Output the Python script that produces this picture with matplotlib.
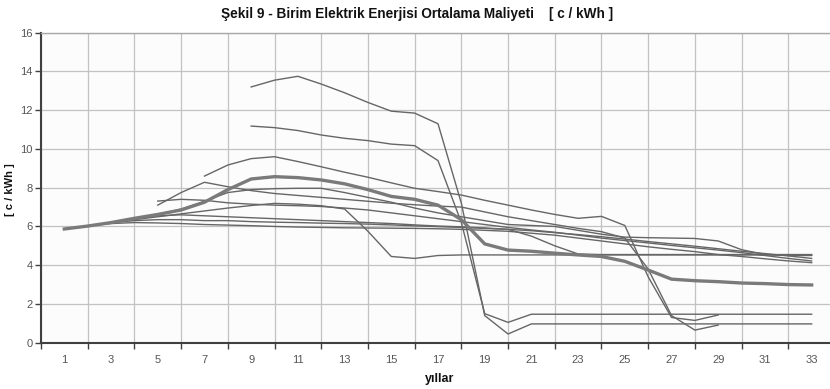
import numpy as np
import matplotlib
matplotlib.use("Agg")
import matplotlib.pyplot as plt
from matplotlib import font_manager

N = np.nan
years = list(range(1, 34))

# average (thick) series
avg = [5.87, 6.02, 6.2, 6.42, 6.62, 6.85, 7.25, 7.9, 8.45, 8.57, 8.52, 8.4, 8.2, 7.9, 7.55,
       7.4, 7.1, 6.35, 5.1, 4.78, 4.72, 4.62, 4.53, 4.45, 4.2, 3.75, 3.28, 3.2, 3.15, 3.08,
       3.05, 3.0, 2.98]
s13 = [N]*8 + [13.2, 13.55, 13.75, 13.35, 12.9, 12.4, 11.95, 11.85, 11.3, 7.2, 1.4, 0.45,
               0.97] + [0.97]*12
s11 = [N]*8 + [11.18, 11.1, 10.95, 10.72, 10.55, 10.43, 10.25, 10.17, 9.4, 6.2, 1.5, 1.05,
               1.47] + [1.47]*12
sa = [N]*6 + [8.6, 9.17, 9.5, 9.6, 9.35, 9.08, 8.8, 8.54, 8.25, 7.97, 7.8, 7.62, 7.35, 7.1,
              6.85, 6.62, 6.42, 6.52, 6.05, 3.4, 1.3, 1.15, 1.43] + [N]*4
sb = [N]*4 + [7.1, 7.75, 8.28, 8.05, 7.85, 7.7, 7.6, 7.5, 7.4, 7.3, 7.2, 7.12, 7.05, 7.0,
              6.75, 6.5, 6.3, 6.1, 5.9, 5.73, 5.4, 3.8, 1.4, 0.65, 0.91] + [N]*4
sr = [5.87, 6.02, 6.2, 6.42, 6.62, 6.9, 7.3, 7.75, 7.9, 7.95, 7.97, 7.97, 7.75, 7.5, 7.25,
      6.95, 6.7, 6.5, 6.3, 6.1, 6.05, 6.0, 5.8, 5.6, 5.45, 5.42, 5.4, 5.38, 5.25, 4.8, 4.55,
      4.5, 4.5]
sc = [N]*4 + [7.31, 7.4, 7.35, 7.22, 7.15, 7.1, 7.07, 7.03, 6.95, 6.85, 6.7, 6.55, 6.4,
              6.25, 6.1, 5.95, 5.82, 5.7, 5.55, 5.4, 5.27, 5.15, 5.02, 4.9, 4.78, 4.65,
              4.5, 4.35, 4.22]
sd = [5.87, 6.02, 6.2, 6.35, 6.5, 6.65, 6.8, 6.95, 7.08, 7.19, 7.15, 7.07, 6.9, 5.75, 4.45,
      4.35, 4.5, 4.53] + [4.53]*15
se = [5.87, 6.02, 6.2, 6.4, 6.55, 6.6, 6.55, 6.5, 6.45, 6.4, 6.35, 6.3, 6.25, 6.2, 6.15,
      6.08, 6.02, 5.98, 5.92, 5.85, 5.5, 5.0, 4.58, 4.55] + [4.55]*9
sf1 = [5.87, 6.02, 6.2, 6.3, 6.35, 6.35, 6.3, 6.3, 6.25, 6.22, 6.2, 6.17, 6.15, 6.12, 6.08,
       6.03, 5.99, 5.95, 5.9, 5.85, 5.78, 5.68, 5.58, 5.47, 5.35, 5.22, 5.1, 4.98, 4.85,
       4.72, 4.6, 4.48, 4.35]
sf2 = [5.87, 6.02, 6.15, 6.2, 6.18, 6.15, 6.1, 6.07, 6.04, 6.0, 5.97, 5.95, 5.93, 5.92,
       5.91, 5.9, 5.88, 5.85, 5.8, 5.75, 5.65, 5.55, 5.4, 5.25, 5.1, 4.95, 4.82, 4.7, 4.55,
       4.45, 4.33, 4.22, 4.13]

thin_series = [s13, s11, sa, sb, sr, sc, sd, se, sf1, sf2]

title = "Şekil 9 - Birim Elektrik Enerjisi Ortalama Maliyeti    [ c / kWh ]"
ylabel = "[ c / kWh ]"
xlabel = "yıllar"
xtick_labels = [str(v) for v in range(1, 34, 2)]
ytick_vals = list(range(0, 17, 2))

avail = {f.name for f in font_manager.fontManager.ttflist}
fam = [f for f in ["Liberation Sans Narrow", "Liberation Sans", "DejaVu Sans"] if f in avail]
plt.rcParams['font.family'] = fam

fig = plt.figure(figsize=(8.3, 3.89), dpi=100)
fig.patch.set_facecolor("white")
W, H = 830, 389
left, right, top, bottom = 41, 835, 32.7, 342.7
ax = fig.add_axes([left / W, (H - bottom) / H, (right - left) / W, (bottom - top) / H])
ax.set_facecolor("#fcfcfc")

line_col = "#666666"
for s in thin_series:
    ax.plot(years, s, color=line_col, lw=1.0, solid_joinstyle="round", zorder=3)
ax.plot(years, avg, color="#7a7a7a", lw=2.4, solid_joinstyle="round", zorder=4)

ax.set_xlim(0, 34)
ax.set_ylim(0, 16)
ax.set_xticks(range(0, 35, 2))
ax.set_xticklabels([])
ax.set_xticks(range(1, 34, 2), minor=True)
ax.set_xticklabels(xtick_labels, minor=True)
ax.tick_params(axis="x", which="major", length=4, width=1, color="#404040", direction="out")
ax.tick_params(axis="x", which="minor", length=0, pad=9, labelsize=8, labelcolor="#555555")
ax.set_yticks(ytick_vals)
ax.tick_params(axis="y", length=4, width=1, color="#404040", direction="out", pad=2,
               labelsize=8, labelcolor="#555555")

ax.grid(True, which="major", color="#c2c2c2", lw=0.9, zorder=0)
ax.set_axisbelow(True)
ax.spines["right"].set_visible(False)
ax.spines["top"].set_color("#a8a8a8")
ax.spines["top"].set_linewidth(1.0)
ax.spines["left"].set_color("#404040")
ax.spines["left"].set_linewidth(1.5)
ax.spines["bottom"].set_color("#404040")
ax.spines["bottom"].set_linewidth(1.5)

fig.text(417 / W, 1 - 14 / H, title, ha="center", va="center", fontsize=9.8,
         fontweight="bold", color="#111111")
fig.text(10 / W, 1 - 190 / H, ylabel, ha="center", va="center", rotation=90, fontsize=8,
         fontweight="bold", color="#111111")
fig.text(440 / W, 1 - 379 / H, xlabel, ha="center", va="center", fontsize=9,
         fontweight="bold", color="#111111")

fig.savefig("out.png", dpi=100)
